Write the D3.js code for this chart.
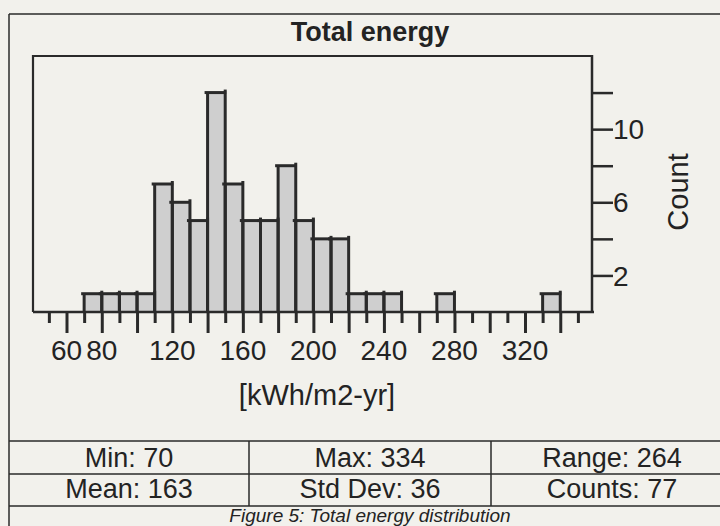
<!DOCTYPE html>
<html>
<head>
<meta charset="utf-8">
<script src="https://cdn.jsdelivr.net/npm/d3@7"></script>
<style>
  html, body { margin: 0; padding: 0; background: #f2f1ec; }
  svg { display: block; }
  text { font-family: "Liberation Sans", Arial, sans-serif; fill: #232323; }
</style>
</head>
<body>
<svg id="chart" width="720" height="526"></svg>
<script>
// ---- data ----
const binStarts = [70, 80, 90, 100, 110, 120, 130, 140, 150, 160, 170, 180, 190, 200,
                   210, 220, 230, 240, 250, 260, 270, 280, 290, 300, 310, 320, 330];
const binWidth = 10;
const counts    = [1, 1, 1, 1, 7, 6, 5, 12, 7, 5, 5, 8, 5, 4,
                   4, 1, 1, 1, 0, 0, 1, 0, 0, 0, 0, 0, 1];
const xTickValues = [50, 60, 70, 80, 90, 100, 110, 120, 130, 140, 150, 160, 170, 180, 190,
                     200, 210, 220, 230, 240, 250, 260, 270, 280, 290, 300, 310, 320, 330, 340, 350];
const xTickLabels = [60, 80, 120, 160, 200, 240, 280, 320];
const yTickValues = [2, 4, 6, 8, 10, 12];
const yTickLabels = [2, 6, 10];
const title = "Total energy";
const xTitle = "[kWh/m2-yr]";
const yTitle = "Count";
const statsRow1 = ["Min: 70", "Max: 334", "Range: 264"];
const statsRow2 = ["Mean: 163", "Std Dev: 36", "Counts: 77"];
const caption = "Figure 5: Total energy distribution";

// ---- layout ----
const svg = d3.select("#chart");
const ink = "#2a2a2a";
const plot = { left: 33, right: 592, top: 56, bottom: 312 };

const x = d3.scaleLinear().domain([41, 358]).range([plot.left, plot.right]);
const y = d3.scaleLinear().domain([0, 14]).range([plot.bottom, plot.top]);

// outer border
svg.append("line").attr("x1", 9).attr("x2", 720).attr("y1", 14).attr("y2", 14)
  .attr("stroke", ink).attr("stroke-width", 1.5);
svg.append("line").attr("x1", 9).attr("x2", 9).attr("y1", 14).attr("y2", 526)
  .attr("stroke", ink).attr("stroke-width", 1.5);

// title
svg.append("text").attr("x", 370).attr("y", 41).attr("text-anchor", "middle")
  .style("font-size", "27px").style("font-weight", "bold").text(title);

// frame: top + left
svg.append("path")
  .attr("d", `M${plot.left},${plot.bottom} V${plot.top} H${plot.right}`)
  .attr("fill", "none").attr("stroke", ink).attr("stroke-width", 2.2);

// bars
const bars = binStarts.map((s, i) => ({ x0: s, x1: s + binWidth, c: counts[i] })).filter(d => d.c > 0);
const g = svg.append("g");
g.selectAll("rect.bar").data(bars).enter().append("rect")
  .attr("class", "bar")
  .attr("x", d => x(d.x0)).attr("width", d => x(d.x1) - x(d.x0))
  .attr("y", d => y(d.c)).attr("height", d => y(0) - y(d.c))
  .attr("fill", "#cfcfcf");
// bar caps
g.selectAll("line.cap").data(bars).enter().append("line")
  .attr("x1", d => x(d.x0) - 3).attr("x2", d => x(d.x1) + 1)
  .attr("y1", d => y(d.c)).attr("y2", d => y(d.c))
  .attr("stroke", ink).attr("stroke-width", 3);
// bar edges
g.selectAll("line.le").data(bars).enter().append("line")
  .attr("x1", d => x(d.x0)).attr("x2", d => x(d.x0))
  .attr("y1", d => y(d.c)).attr("y2", y(0))
  .attr("stroke", ink).attr("stroke-width", 3);
g.selectAll("line.re").data(bars).enter().append("line")
  .attr("x1", d => x(d.x1)).attr("x2", d => x(d.x1))
  .attr("y1", d => y(d.c) - 3).attr("y2", y(0))
  .attr("stroke", ink).attr("stroke-width", 3);

// x axis
const xAxis = d3.axisBottom(x)
  .tickValues(xTickValues)
  .tickSize(0)
  .tickFormat("");
const xa = svg.append("g").attr("transform", `translate(0,${plot.bottom})`).call(xAxis);
xa.select(".domain").remove();
xa.append("line").attr("x1", plot.left).attr("x2", plot.right + 2)
  .attr("y1", 0).attr("y2", 0).attr("stroke", ink).attr("stroke-width", 2.5);
xa.selectAll(".tick line")
  .attr("y2", d => (d % 20 === 0 ? 21 : 11))
  .attr("stroke", ink).attr("stroke-width", 3);
xa.selectAll("text.lbl").data(xTickLabels).enter().append("text")
  .attr("class", "lbl")
  .attr("x", d => x(d)).attr("y", 48)
  .attr("text-anchor", "middle")
  .style("font-size", "28px")
  .text(d => d);

// x title
svg.append("text").attr("x", 317).attr("y", 405).attr("text-anchor", "middle")
  .style("font-size", "29px").text(xTitle);

// y axis (right)
const yAxis = d3.axisRight(y).tickValues(yTickValues).tickSize(21).tickFormat("");
const ya = svg.append("g").attr("transform", `translate(${plot.right},0)`).call(yAxis);
ya.select(".domain").remove();
ya.append("line").attr("x1", 0).attr("x2", 0).attr("y1", plot.top - 1).attr("y2", plot.bottom + 1)
  .attr("stroke", ink).attr("stroke-width", 2.5);
ya.selectAll(".tick line").attr("stroke", ink).attr("stroke-width", 2.5);
ya.selectAll("text.lbl").data(yTickLabels).enter().append("text")
  .attr("class", "lbl")
  .attr("x", 21).attr("y", d => y(d))
  .attr("dy", "0.36em")
  .style("font-size", "28px")
  .text(d => d);

// y title
svg.append("text")
  .attr("transform", "translate(688,192) rotate(-90)")
  .attr("text-anchor", "middle")
  .style("font-size", "29px").text(yTitle);

// stats table
const colEdges = [9, 249, 491, 733];
const rowLines = [441, 474, 506];
rowLines.forEach(yy => {
  svg.append("line").attr("x1", 9).attr("x2", 720).attr("y1", yy).attr("y2", yy)
    .attr("stroke", ink).attr("stroke-width", 1.5);
});
[249, 491].forEach(xx => {
  svg.append("line").attr("x1", xx).attr("x2", xx).attr("y1", 441).attr("y2", 506)
    .attr("stroke", ink).attr("stroke-width", 1.5);
});
[statsRow1, statsRow2].forEach((row, r) => {
  row.forEach((t, c) => {
    svg.append("text")
      .attr("x", (colEdges[c] + colEdges[c + 1]) / 2)
      .attr("y", r === 0 ? 467 : 498)
      .attr("text-anchor", "middle")
      .style("font-size", "27px")
      .text(t);
  });
});

// caption
svg.append("text").attr("x", 370).attr("y", 521.5).attr("text-anchor", "middle")
  .style("font-size", "19px").style("font-style", "italic").text(caption);
</script>
</body>
</html>
